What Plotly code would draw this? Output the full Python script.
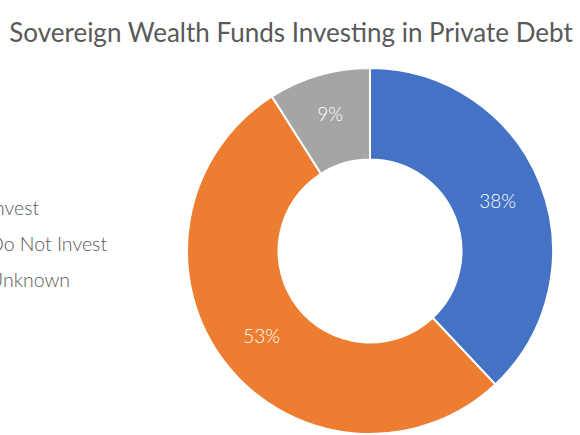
import plotly.graph_objects as go

labels = ["Invest", "Do Not Invest", "Unknown"]
values = [38, 53, 9]
colors = ["#4472C4", "#ED7D31", "#A5A5A5"]

W, H = 580, 435
grey = "#595959"
font = "Lato"

fig = go.Figure(go.Pie(
    labels=labels,
    values=values,
    hole=0.5,
    sort=False,
    direction="clockwise",
    rotation=0,
    marker=dict(colors=colors, line=dict(color="white", width=2)),
    textinfo="percent",
    texttemplate="%{percent:.0%}",
    textposition="inside",
    insidetextorientation="horizontal",
    textfont=dict(family=font, size=19, color="white", weight=300),
    domain=dict(x=[187 / W, 553 / W], y=[1 / H, 367 / H]),
    showlegend=False,
))

# legend drawn as text, markers sit off the left edge like in the source crop
for i, lab in enumerate(labels):
    fig.add_annotation(
        text=lab, xref="paper", yref="paper",
        x=-13 / W, y=1 - (207 + 36 * i) / H,
        xanchor="left", yanchor="middle", showarrow=False,
        font=dict(family=font, size=19.5, color=grey, weight=300),
    )

fig.update_layout(
    width=W, height=H,
    margin=dict(l=0, r=0, t=0, b=0),
    paper_bgcolor="white",
    title=dict(
        text="Sovereign Wealth Funds Investing in Private Debt",
        x=291 / W, xanchor="center", y=1 - 33 / H, yanchor="middle",
        font=dict(family=font, size=26, color=grey),
    ),
)

# page body has an 8px default margin; drop it so the figure sits at 0,0
fig.write_html("out.html", config={"displayModeBar": False},
               post_script="document.body.style.margin='0';")
